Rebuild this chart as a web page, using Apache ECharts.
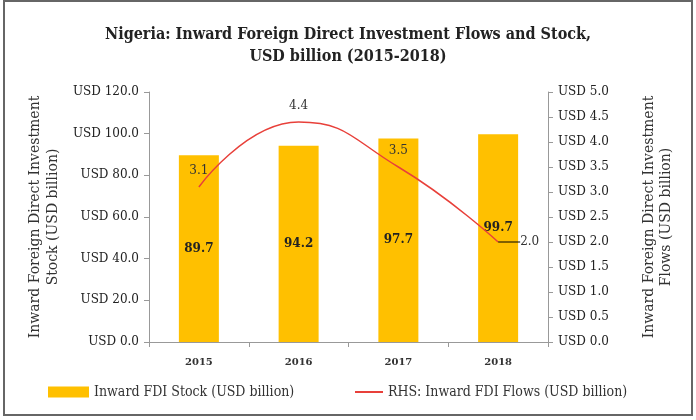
<!DOCTYPE html>
<html>
<head>
<meta charset="utf-8">
<script src="https://cdn.jsdelivr.net/npm/echarts@6/dist/echarts.min.js"></script>
<style>
html,body{margin:0;padding:0;background:#fff;}
#c{width:696px;height:420px;}
</style>
</head>
<body>
<div id="c"></div>
<script>
var categories = ['2015', '2016', '2017', '2018'];
var stockValues = [89.7, 94.2, 97.7, 99.7];
var flowValues = [3.1, 4.4, 3.5, 2.0];
var leftTicks = [0, 20, 40, 60, 80, 100, 120];
var rightTicks = [0, 0.5, 1, 1.5, 2, 2.5, 3, 3.5, 4, 4.5, 5];

var FONT = 'DejaVu Serif';
var chart = echarts.init(document.getElementById('c'));

var barData = stockValues.map(function (v, i) {
  var d = { value: v };
  if (i === stockValues.length - 1) d.label = { offset: [0, -10] };
  return d;
});
var lineData = flowValues.map(function (v, i) {
  var d = { value: v };
  if (i === flowValues.length - 1) {
    d.label = { position: 'right', distance: 22, verticalAlign: 'middle' };
    d.labelLine = { show: true, lineStyle: { color: '#000', width: 1 } };
  }
  return d;
});

var option = {
  animation: false,
  backgroundColor: '#fff',
  textStyle: { fontFamily: FONT },
  title: {
    text: 'Nigeria: Inward Foreign Direct Investment Flows and Stock,\nUSD billion (2015-2018)',
    left: 'center',
    top: 19,
    textStyle: { fontFamily: 'DejaVu Serif Condensed', fontWeight: 'bold', fontSize: 16, lineHeight: 22, color: '#222' }
  },
  graphic: [{
    type: 'rect',
    shape: { x: 4, y: 1, width: 688, height: 414 },
    style: { fill: 'none', stroke: '#666', lineWidth: 2 },
    silent: true
  }],
  legend: [{
    data: ['Inward FDI Stock (USD billion)'],
    left: 43, top: 380,
    itemWidth: 41, itemHeight: 11, icon: 'rect',
    textStyle: { fontFamily: 'DejaVu Serif Condensed', fontSize: 14, color: '#333' }
  }, {
    data: ['RHS: Inward FDI Flows (USD billion)'],
    left: 350, top: 380,
    itemWidth: 28, itemHeight: 2, icon: 'rect',
    textStyle: { fontFamily: 'DejaVu Serif Condensed', fontSize: 14, color: '#333' }
  }],
  grid: { left: 149, right: 148, top: 92, bottom: 78 },
  xAxis: {
    type: 'category',
    data: categories,
    axisLine: { lineStyle: { color: '#999' } },
    axisTick: { show: true, alignWithLabel: false, length: 5, lineStyle: { color: '#999' } },
    axisLabel: { fontFamily: FONT, fontSize: 10, fontWeight: 'bold', color: '#333', margin: 15 }
  },
  yAxis: [{
    type: 'value',
    min: leftTicks[0], max: leftTicks[leftTicks.length - 1], interval: 20,
    splitLine: { show: false },
    axisLine: { show: true, lineStyle: { color: '#999' } },
    axisTick: { show: true, length: 5, lineStyle: { color: '#999' } },
    axisLabel: { fontFamily: FONT, fontSize: 12, color: '#222', margin: 10,
      formatter: function (v) { return 'USD ' + v.toFixed(1); } },
    name: 'Inward Foreign Direct Investment\nStock (USD billion)',
    nameLocation: 'middle', nameRotate: 90, nameGap: 83,
    nameTextStyle: { fontFamily: FONT, fontSize: 14, lineHeight: 18, color: '#333' }
  }, {
    type: 'value',
    min: rightTicks[0], max: rightTicks[rightTicks.length - 1], interval: 0.5,
    splitLine: { show: false },
    axisLine: { show: true, lineStyle: { color: '#999' } },
    axisTick: { show: true, length: 5, lineStyle: { color: '#999' } },
    axisLabel: { fontFamily: FONT, fontSize: 12, color: '#222', margin: 10,
      formatter: function (v) { return 'USD ' + v.toFixed(1); } },
    name: 'Inward Foreign Direct Investment\nFlows (USD billion)',
    nameLocation: 'middle', nameRotate: 90, nameGap: 93,
    nameTextStyle: { fontFamily: FONT, fontSize: 14, lineHeight: 17, color: '#333' }
  }],
  series: [{
    name: 'Inward FDI Stock (USD billion)',
    type: 'bar',
    data: barData,
    barWidth: 40,
    itemStyle: { color: '#FFC000' },
    label: { show: true, position: 'inside', fontFamily: FONT, fontSize: 12, fontWeight: 'bold', color: '#222',
      formatter: function (p) { return p.value.toFixed(1); } }
  }, {
    name: 'RHS: Inward FDI Flows (USD billion)',
    type: 'line',
    yAxisIndex: 1,
    data: lineData,
    smooth: true,
    symbol: 'circle',
    symbolSize: 0.1,
    lineStyle: { color: '#E8403A', width: 1.5 },
    itemStyle: { color: '#E8403A' },
    label: { show: true, position: 'top', distance: 10, fontFamily: FONT, fontSize: 12, color: '#333',
      formatter: function (p) { return p.value.toFixed(1); } }
  }]
};
chart.setOption(option);
</script>
</body>
</html>
